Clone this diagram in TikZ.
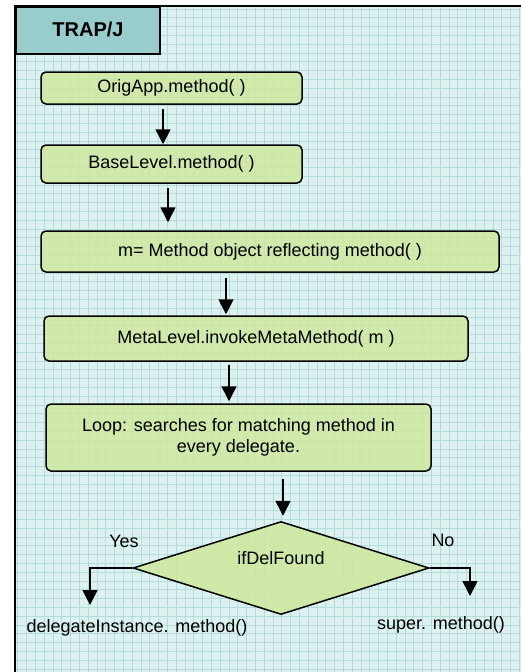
\documentclass[tikz,border=0pt]{standalone}
\usepackage{fontspec}
\setmainfont{Liberation Sans}
\usetikzlibrary{arrows.meta,shapes.geometric,calc}
\definecolor{paper}{HTML}{DEF1F1}
\definecolor{gridline}{HTML}{B3DDDD}
\definecolor{tabfill}{HTML}{99CCCC}
\definecolor{boxfill}{HTML}{CFE89C}
\tikzset{
  stepbox/.style={draw=black, line width=1.5pt, rounded corners=5pt,
    fill=boxfill, fill opacity=0.82, text opacity=1, inner sep=0pt,
    font=\fontsize{18}{21}\selectfont, align=center},
  arr/.style={line width=1.6pt, -{Triangle[width=15pt,length=15pt]}},
  branch/.style={line width=1.6pt, -{Triangle[width=15pt,length=15pt]}},
  plain/.style={font=\fontsize{18}{21}\selectfont, inner sep=0pt}
}
\begin{document}
\begin{tikzpicture}[x=1pt,y=-1pt]
\useasboundingbox (0,0) rectangle (521,672);
% sheet with grid
\fill[paper] (15,6) rectangle (521,672);
\begin{scope}
  \clip (15,6) rectangle (521,672);
  \draw[gridline, line width=0.6pt, step=8.8pt] (15,6) grid (521,672);
\end{scope}
\draw[line width=2pt] (521,6) -- (15,6) -- (15,672);
% title tab
\node[draw=black, line width=2pt, fill=tabfill, minimum width=144pt, minimum height=47pt,
  inner sep=0pt, font=\fontsize{20}{24}\selectfont\bfseries, anchor=north west]
  (tab) at (15,6) {\raisebox{3pt}{TRAP/J}};

% process steps
\node[stepbox, minimum width=261pt, minimum height=32pt] (b1) at (171.5,88) {OrigApp.method( )};
\node[stepbox, minimum width=261pt, minimum height=38pt] (b2) at (171.5,164) {BaseLevel.method( )};
\node[stepbox, minimum width=458pt, minimum height=41pt] (b3) at (270,251.5) {m= Method object reflecting method( )};
\node[stepbox, minimum width=424pt, minimum height=45pt] (b4) at (256,338.5) {MetaLevel.invokeMetaMethod( m )};
\node[stepbox, minimum width=385pt, minimum height=67pt] (b5) at (238.5,437.5) {Loop: searches for matching method in\\every delegate.};

% decision
\node[diamond, draw=black, line width=1.5pt, fill=boxfill, fill opacity=0.85,
  minimum width=296pt, minimum height=93pt, aspect=3.18, inner sep=0pt] (dec) at (281,568) {};
\node[plain] (dtext) at (281,558) {ifDelFound};

% arrow columns
\coordinate (c1) at (163,0);
\coordinate (c2) at (168,0);
\coordinate (c3) at (226,0);
\coordinate (c4) at (229,0);
\coordinate (c5) at (283,0);
\draw[arr] ([yshift=-4pt]b1.south -| c1) -- (b2.north -| c1);
\draw[arr] ([yshift=-4pt]b2.south -| c2) -- ([yshift=8pt]b3.north -| c2);
\draw[arr] ([yshift=-5pt]b3.south -| c3) -- ([yshift=1pt]b4.north -| c3);
\draw[arr] ([yshift=-3pt]b4.south -| c4) -- ([yshift=2pt]b5.north -| c4);
\draw[arr] ([yshift=-7pt]b5.south -| c5) -- ([yshift=5pt]dec.north -| c5);

% branches
\coordinate (yesend) at (90,605);
\coordinate (noend) at (470,596);
\draw[branch] (dec.west) -| (yesend);
\draw[branch] (dec.east) -| (noend);

\node[plain] (yes) at (124,541) {Yes};
\node[plain] (no) at (443,540) {No};
\node[plain] (yesout) at (137,628) {delegateInstance. method()};
\node[plain] (noout) at (441,625) {super. method()};
\end{tikzpicture}
\end{document}
